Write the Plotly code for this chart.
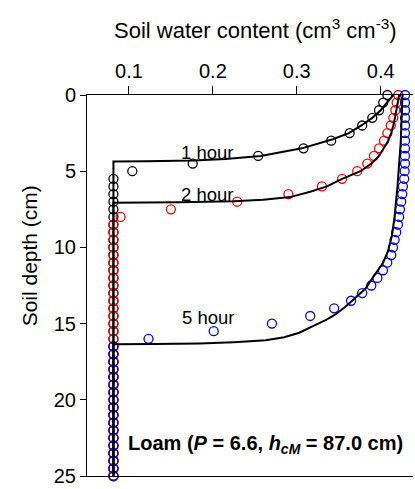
import plotly.graph_objects as go

# ---------------- data ----------------
depth_obs = [0, 0.5, 1, 1.5, 2, 2.5, 3, 3.5, 4, 4.5, 5, 5.5, 6, 6.5, 7, 7.5, 8, 8.5, 9, 9.5,
             10, 10.5, 11, 11.5, 12, 12.5, 13, 13.5, 14, 14.5, 15, 15.5, 16, 16.5, 17, 17.5,
             18, 18.5, 19, 19.5, 20, 20.5, 21, 21.5, 22, 22.5, 23, 23.5, 24, 24.5, 25]

obs_1h = [0.408, 0.403, 0.398, 0.390, 0.378, 0.363, 0.341, 0.308, 0.254, 0.176, 0.104,
          0.0815, 0.0815, 0.0815, 0.0815, 0.0815, 0.0815, 0.0815, 0.0815, 0.0815,
          0.0815, 0.0815, 0.0815, 0.0815, 0.0815, 0.0815, 0.0815, 0.0815, 0.0815, 0.0815,
          0.0815, 0.0815, 0.0815, 0.0815, 0.0815, 0.0815, 0.0815, 0.0815, 0.0815, 0.0815,
          0.0815, 0.0815, 0.0815, 0.0815, 0.0815, 0.0815, 0.0815, 0.0815, 0.0815, 0.0815,
          0.0815]

obs_2h = [0.421, 0.419, 0.4175, 0.415, 0.412, 0.408, 0.404, 0.398, 0.392, 0.384, 0.372,
          0.354, 0.330, 0.290, 0.229, 0.150, 0.090,
          0.0815, 0.0815, 0.0815, 0.0815, 0.0815, 0.0815, 0.0815, 0.0815, 0.0815,
          0.0815, 0.0815, 0.0815, 0.0815, 0.0815, 0.0815, 0.0815, 0.0815, 0.0815, 0.0815,
          0.0815, 0.0815, 0.0815, 0.0815, 0.0815, 0.0815, 0.0815, 0.0815, 0.0815, 0.0815,
          0.0815, 0.0815, 0.0815, 0.0815, 0.0815]

obs_5h = [0.429, 0.429, 0.429, 0.429, 0.429, 0.429, 0.429, 0.429, 0.429, 0.429,
          0.4285, 0.428, 0.4265, 0.4257, 0.4245, 0.423, 0.422, 0.4206, 0.4185, 0.4166,
          0.4146, 0.4126, 0.4078, 0.4027, 0.396, 0.3888, 0.378, 0.3647, 0.3445, 0.316,
          0.2704, 0.201, 0.1233,
          0.0815, 0.0815, 0.0815, 0.0815, 0.0815, 0.0815, 0.0815, 0.0815, 0.0815,
          0.0815, 0.0815, 0.0815, 0.0815, 0.0815, 0.0815, 0.0815, 0.0815, 0.0815]

sim_1h_depth = [0, 0.5, 1.0, 1.5, 2.0, 2.5, 2.9, 3.5, 4.0, 4.2, 4.3, 4.35, 4.37, 25]
sim_1h_theta = [0.415, 0.408, 0.400, 0.390, 0.377, 0.362, 0.343, 0.306, 0.257, 0.215,
                0.177, 0.12, 0.0815, 0.0815]

sim_2h_depth = [0, 0.5, 1, 1.5, 2, 2.5, 3, 3.5, 4, 4.5, 5, 5.5, 6, 6.35, 6.7, 6.88,
                6.97, 7.03, 7.07, 25]
sim_2h_theta = [0.422, 0.4205, 0.419, 0.417, 0.415, 0.4125, 0.409, 0.404, 0.398, 0.389,
                0.376, 0.354, 0.336, 0.316, 0.292, 0.26, 0.225, 0.16, 0.0815, 0.0815]

sim_5h_depth = [0, 3, 6, 8, 9.2, 10.2, 11.0, 11.6, 12.2, 12.7, 13.3, 13.9, 14.4, 14.75,
                15.2, 15.6, 15.9, 16.1, 16.22, 16.3, 16.34, 16.36, 25]
sim_5h_theta = [0.426, 0.424, 0.420, 0.4165, 0.4135, 0.409, 0.403, 0.396, 0.388, 0.382,
                0.370, 0.358, 0.346, 0.335, 0.318, 0.303, 0.285, 0.263, 0.225, 0.184,
                0.13, 0.0815, 0.0815]

x_ticks = [0.1, 0.2, 0.3, 0.4]
x_ticklabels = ["0.1", "0.2", "0.3", "0.4"]
y_ticks = [0, 5, 10, 15, 20, 25]
y_ticklabels = ["0", "5", "10", "15", "20", "25"]

FONT = "Arial, Liberation Sans, sans-serif"

fig = go.Figure()

for obs, col in [(obs_1h, "#000000"), (obs_2h, "#FF0000"), (obs_5h, "#0000FF")]:
    fig.add_trace(go.Scatter(
        x=obs, y=depth_obs, mode="markers", cliponaxis=False,
        marker=dict(symbol="circle-open", size=9, color=col, line=dict(width=1.3, color=col)),
        showlegend=False))

for th, d in [(sim_1h_theta, sim_1h_depth), (sim_2h_theta, sim_2h_depth), (sim_5h_theta, sim_5h_depth)]:
    fig.add_trace(go.Scatter(x=th, y=d, mode="lines", line=dict(color="#000000", width=2),
                             showlegend=False))

fig.update_layout(
    width=415, height=489,
    margin=dict(l=87, r=2, t=95, b=7),
    paper_bgcolor="white", plot_bgcolor="white",
    font=dict(family=FONT, color="#000000", size=19),
    xaxis=dict(side="top", range=[0.05, 0.4385], tickvals=x_ticks, ticktext=x_ticklabels,
               ticks="outside", ticklen=8, tickwidth=1, tickcolor="black",
               showline=True, linecolor="black", linewidth=1, mirror=True,
               showgrid=False, zeroline=False, tickfont=dict(size=20, family=FONT)),
    yaxis=dict(range=[25, 0], tickvals=y_ticks, ticktext=y_ticklabels,
               ticks="outside", ticklen=6, tickwidth=1, tickcolor="black",
               showline=True, linecolor="black", linewidth=1, mirror=False,
               showgrid=False, zeroline=False, tickfont=dict(size=20, family=FONT),
               ticklabeloverflow="allow"),
)

fig.add_annotation(text="Soil water content (cm<sup>3</sup> cm<sup>-3</sup>)",
                   xref="paper", yref="paper", x=0.517, y=1.173, showarrow=False,
                   xanchor="center", yanchor="middle", font=dict(size=22, family=FONT))
fig.add_annotation(text="Soil depth (cm)", textangle=-90,
                   xref="paper", yref="paper", x=-0.178, y=0.579, showarrow=False,
                   xanchor="center", yanchor="middle", font=dict(size=21, family=FONT))

for txt, xx, yy in [("1 hour", 0.1933, 3.75), ("2 hour", 0.1933, 6.5), ("5 hour", 0.1939, 14.6)]:
    fig.add_annotation(text=txt, x=xx, y=yy, xref="x", yref="y", showarrow=False,
                       xanchor="center", yanchor="middle", font=dict(size=18.5, family=FONT))

fig.add_annotation(text="<b>Loam (<i>P</i> = 6.6, <i>h<sub>cM</sub></i> = 87.0 cm)</b>",
                   x=0.2623, y=22.9, xref="x", yref="y", showarrow=False,
                   xanchor="center", yanchor="middle", font=dict(size=20, family=FONT))

fig.write_html("out.html", config={"displayModeBar": False},
               post_script="document.body.style.margin='0';")
